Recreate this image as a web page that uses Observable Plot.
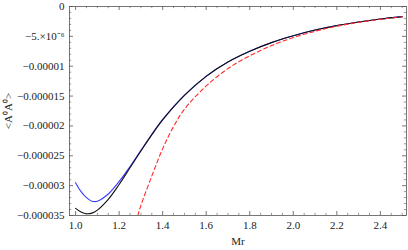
<!DOCTYPE html>
<html>
<head>
<meta charset="utf-8">
<script src="https://cdn.jsdelivr.net/npm/d3@7"></script>
<script src="https://cdn.jsdelivr.net/npm/@observablehq/plot@0.6"></script>
<style>
  html, body { margin: 0; padding: 0; background: white; }
</style>
</head>
<body>
<div id="chart"></div>
<script>
// x values (Mr)
const blackX = [1.0, 1.025, 1.05, 1.075, 1.1, 1.15, 1.2, 1.25, 1.3, 1.35, 1.4, 1.5, 1.6, 1.7, 1.8, 1.9, 2.0, 2.1, 2.2, 2.3, 2.4, 2.5];
const blackY = [-33.8, -34.4, -34.7, -34.6, -34.1, -32.3, -29.8, -27.0, -24.2, -21.5, -19.0, -14.9, -11.7, -9.3, -7.5, -6.05, -4.9, -3.95, -3.2, -2.6, -2.1, -1.7];

const blueX = [1.0, 1.025, 1.05, 1.075, 1.1, 1.15, 1.2, 1.25, 1.3, 1.35, 1.4, 1.5, 1.6, 1.7, 1.8, 1.9, 2.0, 2.1, 2.2, 2.3, 2.4, 2.5];
const blueY = [-29.5, -31.0, -32.0, -32.6, -32.6, -31.4, -29.3, -26.8, -24.1, -21.4, -18.9, -14.85, -11.65, -9.27, -7.48, -6.04, -4.89, -3.94, -3.19, -2.59, -2.09, -1.69];

const redX = [1.286, 1.3, 1.35, 1.4, 1.45, 1.5, 1.6, 1.7, 1.8, 1.9, 2.0, 2.1, 2.2, 2.3, 2.4, 2.5];
const redY = [-35.0, -33.3, -28.4, -23.8, -20.1, -17.2, -13.3, -10.4, -8.25, -6.55, -5.2, -4.15, -3.3, -2.66, -2.15, -1.74];

const yUnit = 1e-6;

// ticks
const xMajor = [1.0, 1.2, 1.4, 1.6, 1.8, 2.0, 2.2, 2.4];
const xLabels = ["1.0", "1.2", "1.4", "1.6", "1.8", "2.0", "2.2", "2.4"];
const xMinor = [1.05, 1.1, 1.15, 1.25, 1.3, 1.35, 1.45, 1.5, 1.55, 1.65, 1.7, 1.75, 1.85, 1.9, 1.95, 2.05, 2.1, 2.15, 2.25, 2.3, 2.35, 2.45, 2.5];
const yMajor = [0, -5e-6, -10e-6, -15e-6, -20e-6, -25e-6, -30e-6, -35e-6];
const yLabels = ["0", "\u22125.\u00d710\u207b\u2076", "\u22120.00001", "\u22120.000015", "\u22120.00002", "\u22120.000025", "\u22120.00003", "\u22120.000035"];
const yMinor = [];
for (let k = 1; k < 35; k++) if (k % 5 !== 0) yMinor.push(-k * 1e-6);

const xTitle = "Mr";
const yTitle = "<A\u2070A\u2070>";

const toRows = (xs, ys) => xs.map((x, i) => ({x, y: ys[i] * yUnit}));
const black = toRows(blackX, blackY);
const blue = toRows(blueX, blueY);
const red = toRows(redX, redY);

const W = 408, H = 250;
const mL = 69, mR = 2, mT = 6, mB = 35;
const pw = W - mL - mR, ph = H - mT - mB;
const frameColor = "#555";

const chart = Plot.plot({
  width: W,
  height: H,
  marginLeft: mL,
  marginRight: mR,
  marginTop: mT,
  marginBottom: mB,
  x: {domain: [0.972, 2.52]},
  y: {domain: [-35e-6, 0]},
  style: {fontFamily: "'Liberation Serif', serif", fontSize: "11px", background: "white", color: "#222"},
  marks: [
    Plot.line(blue, {x: "x", y: "y", stroke: "#3a3aff", strokeWidth: 1.1, curve: "catmull-rom", clip: true}),
    Plot.line(black, {x: "x", y: "y", stroke: "#111", strokeWidth: 1.1, curve: "catmull-rom", clip: true}),
    Plot.line(red, {x: "x", y: "y", stroke: "#ff2a2a", strokeWidth: 1.1, strokeDasharray: "4,3", curve: "catmull-rom", clip: true}),
    Plot.frame({stroke: frameColor, strokeWidth: 0.8}),
    // inward ticks bottom/top
    Plot.tickX(xMajor, {x: d => d, insetTop: ph - 4, stroke: frameColor, strokeWidth: 0.8}),
    Plot.tickX(xMajor, {x: d => d, insetBottom: ph - 4, stroke: frameColor, strokeWidth: 0.8}),
    Plot.tickX(xMinor, {x: d => d, insetTop: ph - 2.2, stroke: frameColor, strokeWidth: 0.6}),
    Plot.tickX(xMinor, {x: d => d, insetBottom: ph - 2.2, stroke: frameColor, strokeWidth: 0.6}),
    // inward ticks left/right
    Plot.tickY(yMajor, {y: d => d, insetRight: pw - 4, stroke: frameColor, strokeWidth: 0.8}),
    Plot.tickY(yMajor, {y: d => d, insetLeft: pw - 4, stroke: frameColor, strokeWidth: 0.8}),
    Plot.tickY(yMinor, {y: d => d, insetRight: pw - 2.2, stroke: frameColor, strokeWidth: 0.6}),
    Plot.tickY(yMinor, {y: d => d, insetLeft: pw - 2.2, stroke: frameColor, strokeWidth: 0.6}),
    // tick labels
    Plot.axisX(xMajor, {anchor: "bottom", tickSize: 0, tickPadding: 6, tickFormat: d => xLabels[xMajor.indexOf(d)], label: null}),
    Plot.axisY(yMajor, {anchor: "left", tickSize: 0, tickPadding: 5, tickFormat: d => yLabels[yMajor.indexOf(d)], label: null}),
    // titles
    Plot.text([xTitle], {frameAnchor: "bottom", dy: 29, text: d => d, fontSize: 11}),
    Plot.text([yTitle], {frameAnchor: "left", textAnchor: "middle", dx: -61, rotate: -90, text: d => d, fontSize: 11})
  ]
});
document.getElementById("chart").appendChild(chart);
</script>
</body>
</html>
